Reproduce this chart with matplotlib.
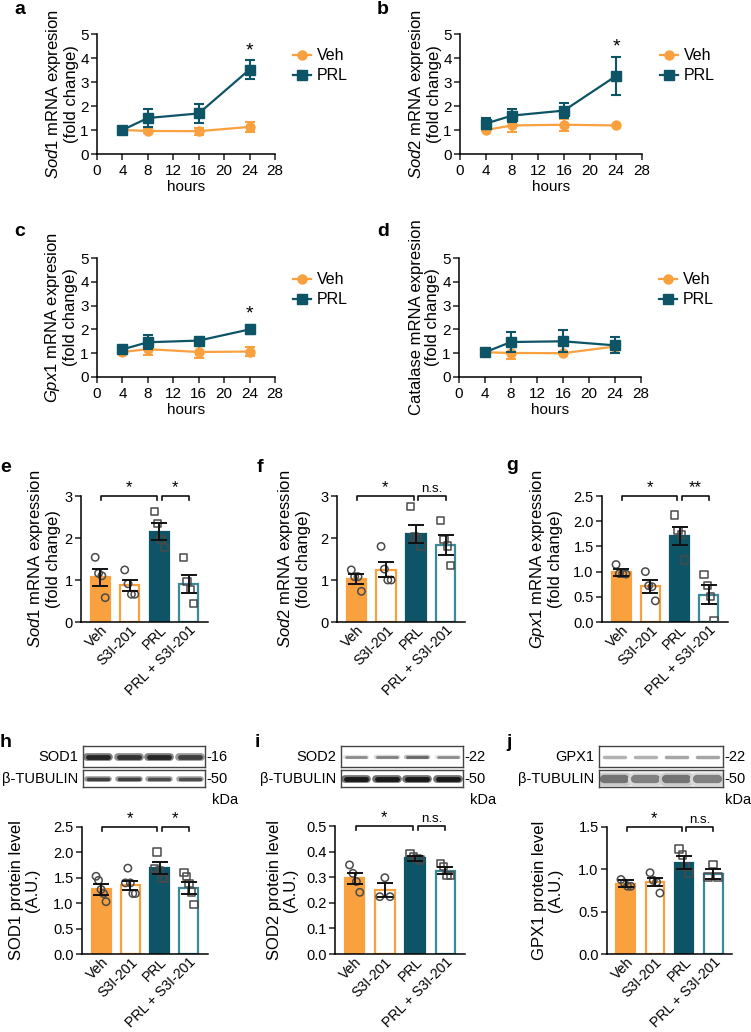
import numpy as np
import matplotlib
matplotlib.use("Agg")
import matplotlib.pyplot as plt
from matplotlib.lines import Line2D

plt.rcParams['font.family'] = ['Liberation Sans', 'DejaVu Sans']
plt.rcParams['mathtext.fontset'] = 'custom'
plt.rcParams['mathtext.it'] = 'Liberation Sans:italic'
plt.rcParams['mathtext.rm'] = 'Liberation Sans'
plt.rcParams['axes.linewidth'] = 1.1
plt.rcParams['xtick.major.width'] = 1.1
plt.rcParams['ytick.major.width'] = 1.1
plt.rcParams['xtick.major.size'] = 4
plt.rcParams['ytick.major.size'] = 4

ORANGE = "#F9A03F"
TEAL = "#0D5466"
TEAL_LIGHT = "#3C8A99"

# -----------------------------
# time course data (a-d)
# -----------------------------
hours = [4, 8, 16, 24]

sod1_veh = [1.0, 0.96, 0.95, 1.13]
sod1_veh_err = [0.05, 0.10, 0.15, 0.22]
sod1_prl = [1.0, 1.50, 1.69, 3.52]
sod1_prl_err = [0.05, 0.38, 0.38, 0.41]

sod2_veh = [1.0, 1.19, 1.22, 1.19]
sod2_veh_err = [0.04, 0.28, 0.25, 0.03]
sod2_prl = [1.27, 1.60, 1.81, 3.25]
sod2_prl_err = [0.22, 0.28, 0.30, 0.78]

gpx1_veh = [1.05, 1.17, 1.05, 1.07]
gpx1_veh_err = [0.05, 0.25, 0.27, 0.20]
gpx1_prl = [1.16, 1.46, 1.53, 2.00]
gpx1_prl_err = [0.05, 0.30, 0.05, 0.20]

cat_veh = [1.04, 1.01, 1.00, 1.28]
cat_veh_err = [0.04, 0.25, 0.03, 0.15]
cat_prl = [1.04, 1.47, 1.50, 1.33]
cat_prl_err = [0.05, 0.42, 0.47, 0.33]

# -----------------------------
# bar data (e-j)
# -----------------------------
groups = ["Veh", "S3I-201", "PRL", "PRL + S3I-201"]

e_mean = [1.06, 0.87, 2.15, 0.91]
e_err = [0.20, 0.13, 0.20, 0.22]
e_pts = [[1.54, 1.16, 1.10, 0.58], [1.24, 0.91, 0.66, 0.66],
         [2.63, 2.34, 1.96, 1.78], [1.54, 0.97, 0.77, 0.44]]

f_mean = [1.02, 1.25, 2.10, 1.83]
f_err = [0.12, 0.18, 0.22, 0.23]
f_pts = [[1.24, 1.08, 1.08, 0.73], [1.80, 1.26, 1.00, 1.00],
         [2.75, 2.02, 1.98, 1.80], [2.41, 1.96, 1.81, 1.34]]

g_mean = [0.99, 0.71, 1.71, 0.54]
g_err = [0.07, 0.13, 0.18, 0.19]
g_pts = [[1.14, 0.96, 0.96, 0.95], [1.00, 0.72, 0.70, 0.42],
         [2.12, 1.81, 1.74, 1.23], [0.94, 0.72, 0.50, 0.03]]

h_mean = [1.27, 1.35, 1.69, 1.30]
h_err = [0.10, 0.09, 0.12, 0.11]
h_pts = [[1.53, 1.45, 1.27, 1.19, 1.03], [1.69, 1.40, 1.40, 1.19, 1.19],
         [2.01, 1.68, 1.65, 1.49, 1.49], [1.60, 1.52, 1.39, 1.22, 0.98]]

i_mean = [0.296, 0.250, 0.374, 0.326]
i_err = [0.021, 0.027, 0.009, 0.013]
i_pts = [[0.348, 0.315, 0.283, 0.241], [0.298, 0.224, 0.224],
         [0.393, 0.380, 0.374, 0.367], [0.354, 0.341, 0.306, 0.306]]

j_mean = [0.83, 0.85, 1.08, 0.94]
j_err = [0.04, 0.05, 0.08, 0.06]
j_pts = [[0.88, 0.84, 0.80, 0.80], [0.96, 0.87, 0.85, 0.72],
         [1.24, 1.17, 1.03, 0.95], [1.06, 0.91, 0.91]]

# blot band intensities (0 = none, 1 = black), per lane
sod1_band = [0.85, 0.80, 0.85, 0.75]
tub_h_band = [0.75, 0.75, 0.70, 0.70]
sod2_band = [0.45, 0.50, 0.60, 0.45]
tub_i_band = [0.90, 0.90, 0.90, 0.90]
gpx1_band = [0.30, 0.30, 0.35, 0.35]
tub_j_band = [0.55, 0.50, 0.55, 0.50]

W, H = 751, 1032
fig = plt.figure(figsize=(W / 100, H / 100), dpi=100)


def add_ax(l, t, r, b):
    ax = fig.add_axes([l / W, 1 - b / H, (r - l) / W, (b - t) / H])
    ax._px = (l, r)
    return ax


def style(ax, size):
    ax.spines['top'].set_visible(False)
    ax.spines['right'].set_visible(False)
    ax.tick_params(labelsize=size, direction='out', color='#222222')
    ax.tick_params(axis='y', pad=2)


def place_ylabel(ax, right_px):
    l, r = ax._px
    ax.yaxis.set_label_coords((right_px - l) / (r - l), 0.5)


def time_panel(box, veh, veh_err, prl, prl_err, ylabel, lab_px, star=None):
    ax = add_ax(*box)
    ax.errorbar(hours, veh, yerr=veh_err, color=ORANGE, marker='o', ms=6.5,
                lw=1.6, capsize=3.5, elinewidth=1.5, capthick=1.5, zorder=3)
    ax.errorbar(hours, prl, yerr=prl_err, color=TEAL, marker='s', ms=6.5,
                lw=1.6, capsize=3.5, elinewidth=1.5, capthick=1.5, zorder=4)
    ax.set_xlim(0, 28)
    ax.set_ylim(0, 5)
    ax.set_xticks(range(0, 29, 4))
    ax.set_yticks(range(0, 6))
    ax.set_xlabel('hours', fontsize=11, labelpad=1)
    ax.set_ylabel(ylabel, fontsize=12, linespacing=1.05)
    place_ylabel(ax, lab_px)
    style(ax, 11)
    if star is not None:
        ax.text(24, star, '*', ha='center', va='center', fontsize=14)
    handles = [Line2D([], [], color=ORANGE, marker='o', ms=6.5, lw=1.6),
               Line2D([], [], color=TEAL, marker='s', ms=6.5, lw=1.6)]
    ax.legend(handles, ['Veh', 'PRL'], loc='upper left', bbox_to_anchor=(1.02, 1.0),
              frameon=False, fontsize=11.5, handlelength=1.1, handletextpad=0.4,
              labelspacing=0.3)
    return ax


time_panel((97, 34, 275, 154), sod1_veh, sod1_veh_err, sod1_prl, sod1_prl_err,
           '$\\mathit{Sod1}$ mRNA expresion\n(fold change)', 79, star=4.3)
time_panel((460, 34, 642, 154), sod2_veh, sod2_veh_err, sod2_prl, sod2_prl_err,
           '$\\mathit{Sod2}$ mRNA expresion\n(fold change)', 442, star=4.45)
time_panel((97, 258, 275, 377), gpx1_veh, gpx1_veh_err, gpx1_prl, gpx1_prl_err,
           '$\\mathit{Gpx1}$ mRNA expresion\n(fold change)', 78, star=2.65)
time_panel((459, 258, 641, 377), cat_veh, cat_veh_err, cat_prl, cat_prl_err,
           'Catalase mRNA expresion\n(fold change)', 440)

# -----------------------------
# bar panels
# -----------------------------
faces = [ORANGE, 'white', TEAL, 'white']
edges = [ORANGE, ORANGE, TEAL, TEAL_LIGHT]
marks = ['o', 'o', 's', 's']


def bar_panel(box, means, errs, pts, ymax, yticks, ylabel, lab_px, sig, fmt=None):
    ax = add_ax(*box)
    x = np.arange(len(groups))
    ax.bar(x, means, width=0.65, color=faces, edgecolor=edges, linewidth=1.6, zorder=2)
    for i, vals in enumerate(pts):
        n = len(vals)
        offs = np.linspace(-0.17, 0.17, n)
        order = np.argsort(np.argsort(vals))
        ax.scatter(x[i] + offs[order[::-1]], vals, marker=marks[i], s=28,
                   facecolors='none', edgecolors='#4a4a4a', linewidths=1.1, zorder=3)
    ax.errorbar(x, means, yerr=errs, fmt='none', ecolor='#111111', elinewidth=1.4,
                capsize=5.5, capthick=1.4, zorder=4)
    ax.set_xlim(-0.65, 3.65)
    ax.set_ylim(0, ymax)
    ax.set_yticks(yticks)
    if fmt:
        ax.set_yticklabels([fmt % v for v in yticks])
    ax.set_xticks(x)
    ax.set_xticklabels(groups, rotation=45, ha='right', rotation_mode='anchor')
    ax.set_ylabel(ylabel, fontsize=12, linespacing=1.05)
    place_ylabel(ax, lab_px)
    style(ax, 10.5)
    ax.tick_params(axis='x', length=0, pad=1, labelsize=10.2)
    # significance brackets
    tick = ymax * 0.035
    for (x0, x1, txt) in [(0.03, 1.92, sig[0]), (2.08, 3.0, sig[1])]:
        ax.plot([x0, x0, x1, x1], [ymax - tick, ymax, ymax, ymax - tick],
                color='#111111', lw=1.2, clip_on=False)
        ax.text((x0 + x1) / 2, ymax + ymax * 0.005, txt, ha='center', va='bottom',
                fontsize=12 if txt.startswith('*') else 9.5, clip_on=False)
    return ax


bar_panel((81, 496, 208, 622), e_mean, e_err, e_pts, 3, [0, 1, 2, 3],
          '$\\mathit{Sod1}$ mRNA expression\n(fold change)', 61, ('*', '*'))
bar_panel((337, 496, 465, 622), f_mean, f_err, f_pts, 3, [0, 1, 2, 3],
          '$\\mathit{Sod2}$ mRNA expression\n(fold change)', 311, ('*', 'n.s.'))
bar_panel((602, 496, 728, 622), g_mean, g_err, g_pts, 2.5, [0, 0.5, 1.0, 1.5, 2.0, 2.5],
          '$\\mathit{Gpx1}$ mRNA expression\n(fold change)', 563, ('*', '**'), fmt='%.1f')
bar_panel((82, 827, 208, 954), h_mean, h_err, h_pts, 2.5, [0, 0.5, 1.0, 1.5, 2.0, 2.5],
          'SOD1 protein level\n(A.U.)', 40, ('*', '*'), fmt='%.1f')
bar_panel((335, 826, 465, 954), i_mean, i_err, i_pts, 0.5, [0, 0.1, 0.2, 0.3, 0.4, 0.5],
          'SOD2 protein level\n(A.U.)', 298, ('*', 'n.s.'), fmt='%.1f')
bar_panel((607, 827, 732, 954), j_mean, j_err, j_pts, 1.5, [0, 0.5, 1.0, 1.5],
          'GPX1 protein level\n(A.U.)', 563, ('*', 'n.s.'), fmt='%.1f')


# -----------------------------
# western blots
# -----------------------------
def blot(box, bands, thick, bg='white'):
    ax = add_ax(*box)
    ax.set_facecolor(bg)
    for lane, inten in enumerate(bands):
        g = 1 - inten
        ax.plot([lane - 0.36, lane + 0.36], [0, 0], color=str(min(1, g + 0.35)),
                lw=thick * 1.6, solid_capstyle='round')
        ax.plot([lane - 0.33, lane + 0.33], [0, 0], color=str(g),
                lw=thick, solid_capstyle='round')
    ax.set_xlim(-0.5, 3.5)
    ax.set_ylim(-1, 1)
    ax.set_xticks([])
    ax.set_yticks([])
    for s in ax.spines.values():
        s.set_linewidth(1.0)
        s.set_color('#444444')
    return ax


def blot_group(x0, x1, name, kda, b1, t1, b2, t2, bg2='white', kda_px=None):
    blot((x0, 746, x1, 767), b1, t1)
    blot((x0, 770, x1, 787), b2, t2, bg=bg2)
    fig.text((x0 - 5) / W, 1 - 757 / H, name, ha='right', va='center', fontsize=10.5)
    fig.text((x0 - 5) / W, 1 - 779 / H, 'β-TUBULIN', ha='right', va='center', fontsize=10.5)
    fig.text((x1 + 1) / W, 1 - 757 / H, '-' + kda, ha='left', va='center', fontsize=10.5)
    fig.text((x1 + 1) / W, 1 - 779 / H, '-50', ha='left', va='center', fontsize=10.5)
    kx = kda_px if kda_px is not None else x1 + 7
    fig.text(kx / W, 1 - 800 / H, 'kDa', ha='left', va='center', fontsize=10.5)


blot_group(83, 205, 'SOD1', '16', sod1_band, 3.5, tub_h_band, 2.5)
blot_group(341, 463, 'SOD2', '22', sod2_band, 2.0, tub_i_band, 3.5)
blot_group(599, 723, 'GPX1', '22', gpx1_band, 2.5, tub_j_band, 6.0, bg2='#f0f0f0',
           kda_px=725)

# panel letters
letters = [('a', 14, 14), ('b', 377, 14), ('c', 14, 236), ('d', 377, 236),
           ('e', 0, 472), ('f', 257, 472), ('g', 506, 470),
           ('h', 0, 747), ('i', 255, 747), ('j', 506, 747)]
for t, px, py in letters:
    fig.text(px / W, 1 - py / H, t, fontsize=14, fontweight='bold',
             ha='left', va='baseline')

fig.savefig('out.png', dpi=100)
